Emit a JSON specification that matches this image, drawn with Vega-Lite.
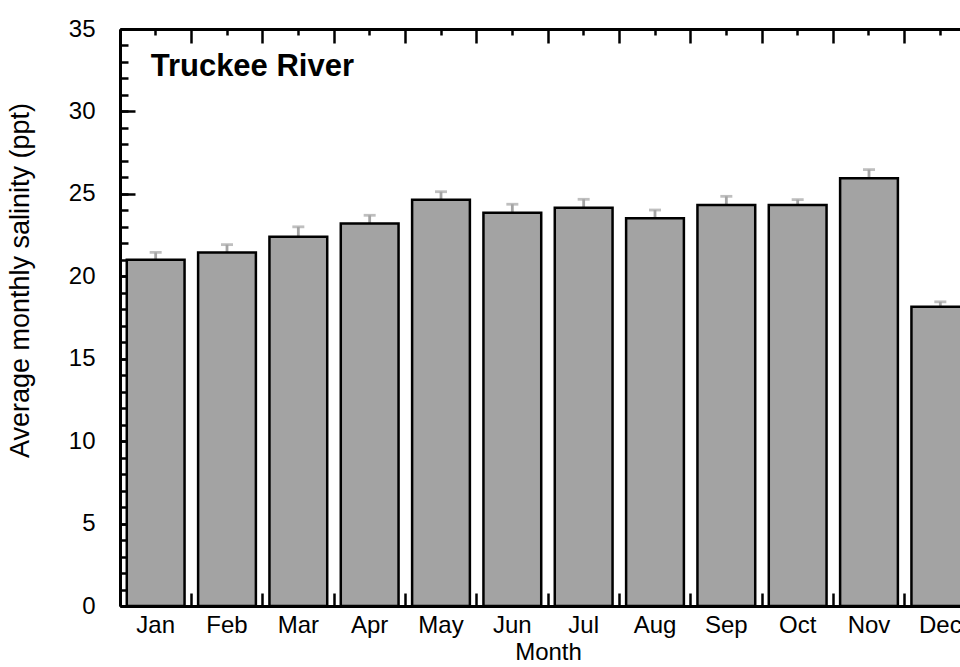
{
  "$schema": "https://vega.github.io/schema/vega-lite/v6.json",
  "width": 856,
  "height": 577,
  "autosize": {"type": "none"},
  "padding": {"left": 120, "top": 29, "right": 0, "bottom": 61},
  "background": "white",
  "config": {
    "view": {"stroke": null},
    "font": "Liberation Sans",
    "axis": {
      "grid": false,
      "domainColor": "black",
      "domainWidth": 3,
      "tickColor": "black",
      "tickWidth": 2.5,
      "labelColor": "black",
      "titleColor": "black",
      "labelFont": "Liberation Sans",
      "titleFont": "Liberation Sans",
      "titleFontWeight": "normal",
      "labelFontSize": 24,
      "titleFontSize": 24
    }
  },
  "data": {
    "values": [
      {"month": "Jan", "value": 21.0, "upper": 21.45},
      {"month": "Feb", "value": 21.45, "upper": 21.92},
      {"month": "Mar", "value": 22.4, "upper": 23.0},
      {"month": "Apr", "value": 23.2, "upper": 23.7},
      {"month": "May", "value": 24.65, "upper": 25.13},
      {"month": "Jun", "value": 23.86, "upper": 24.37},
      {"month": "Jul", "value": 24.16, "upper": 24.67},
      {"month": "Aug", "value": 23.52, "upper": 24.02},
      {"month": "Sep", "value": 24.33, "upper": 24.85},
      {"month": "Oct", "value": 24.33, "upper": 24.65},
      {"month": "Nov", "value": 25.95, "upper": 26.47},
      {"month": "Dec", "value": 18.15, "upper": 18.45}
    ]
  },
  "layer": [
    {
      "mark": {"type": "rule", "color": "#a4a4a4", "strokeWidth": 2.8},
      "encoding": {
        "x": {
          "field": "month", "type": "nominal",
          "sort": ["Jan","Feb","Mar","Apr","May","Jun","Jul","Aug","Sep","Oct","Nov","Dec"],
          "scale": {"paddingInner": 0, "paddingOuter": 0},
          "axis": {"orient": "bottom", "bandPosition": 0, "tickSize": -13, "labels": false, "domain": false, "title": null}
        },
        "y": {
          "field": "value", "type": "quantitative",
          "scale": {"domain": [0, 35], "nice": false, "zero": true},
          "axis": {"orient": "left", "values": [0,1,2,3,4,5,6,7,8,9,10,11,12,13,14,15,16,17,18,19,20,21,22,23,24,25,26,27,28,29,30,31,32,33,34,35], "tickSize": -8, "labels": false, "domain": false, "title": null}
        },
        "y2": {"field": "upper"}
      }
    },
    {
      "mark": {"type": "tick", "color": "#a4a4a4", "thickness": 2.8, "size": 12},
      "encoding": {
        "x": {
          "field": "month", "type": "nominal",
          "sort": ["Jan","Feb","Mar","Apr","May","Jun","Jul","Aug","Sep","Oct","Nov","Dec"],
          "scale": {"paddingInner": 0, "paddingOuter": 0},
          "axis": {"orient": "top", "tickSize": -6, "labels": false, "domain": true, "title": null}
        },
        "y": {
          "field": "upper", "type": "quantitative",
          "scale": {"domain": [0, 35], "nice": false, "zero": true},
          "axis": null
        }
      }
    },
    {
      "mark": {"type": "bar", "fill": "#a3a3a3", "stroke": "black", "strokeWidth": 2.5, "width": {"band": 0.81}},
      "encoding": {
        "x": {
          "field": "month", "type": "nominal",
          "sort": ["Jan","Feb","Mar","Apr","May","Jun","Jul","Aug","Sep","Oct","Nov","Dec"],
          "scale": {"paddingInner": 0, "paddingOuter": 0},
          "axis": {"orient": "bottom", "tickSize": -8, "labelPadding": 15, "labelAngle": 0, "title": "Month", "titlePadding": 3, "domain": true}
        },
        "y": {
          "field": "value", "type": "quantitative",
          "scale": {"domain": [0, 35], "nice": false, "zero": true},
          "axis": {"orient": "left", "values": [0,5,10,15,20,25,30,35], "tickSize": -15, "labelPadding": 40, "title": "Average monthly salinity (ppt)", "titleFontSize": 27, "titleX": -86, "titleY": 251, "titleBaseline": "bottom", "domain": true}
        }
      }
    },
    {
      "data": {"values": [{"month": "Jan", "label": "Truckee River", "pos": 32.15}]},
      "mark": {"type": "text", "align": "left", "baseline": "alphabetic", "dx": -5, "fontSize": 31, "fontWeight": "bold", "font": "Liberation Sans", "color": "black"},
      "encoding": {
        "x": {
          "field": "month", "type": "nominal",
          "sort": ["Jan","Feb","Mar","Apr","May","Jun","Jul","Aug","Sep","Oct","Nov","Dec"],
          "scale": {"paddingInner": 0, "paddingOuter": 0},
          "axis": {"orient": "top", "bandPosition": 0, "tickSize": -14, "labels": false, "domain": false, "title": null}
        },
        "y": {
          "field": "pos", "type": "quantitative",
          "scale": {"domain": [0, 35], "nice": false, "zero": true},
          "axis": null
        },
        "text": {"field": "label"}
      }
    }
  ],
  "resolve": {"axis": {"x": "independent", "y": "independent"}}
}
